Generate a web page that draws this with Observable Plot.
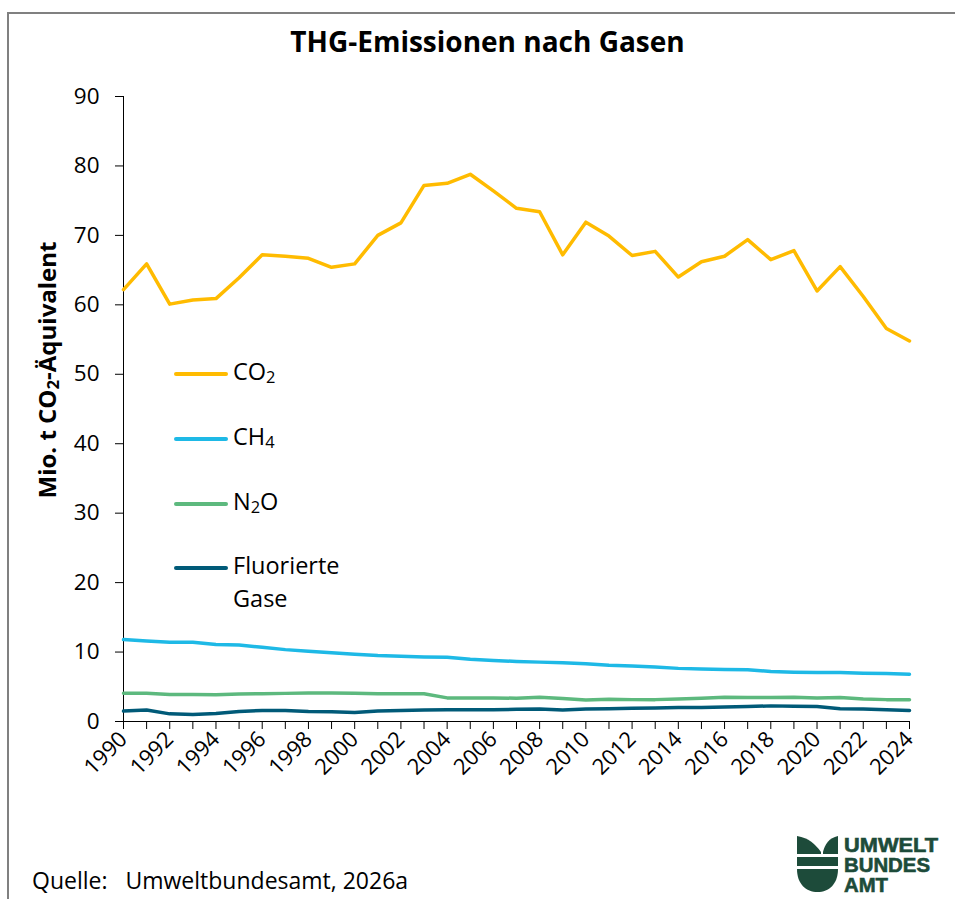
<!DOCTYPE html>
<html>
<head>
<meta charset="utf-8">
<script src="https://cdn.jsdelivr.net/npm/d3@7"></script>
<script src="https://cdn.jsdelivr.net/npm/@observablehq/plot@0.6"></script>
<style>
  html, body { margin: 0; padding: 0; background: #fff; }
  body { width: 955px; height: 899px; overflow: hidden; font-family: "Open Sans", "Noto Sans", sans-serif; color: #000; }
  #wrap { position: relative; width: 955px; height: 899px; }
  #frame { position: absolute; left: 7px; top: 12px; width: 960px; height: 900px; border-left: 2px solid #808080; border-top: 2px solid #808080; }
  #title { position: absolute; left: 0; width: 975px; top: 22px; text-align: center; font-weight: 700; font-size: 28px; }
  #chart { position: absolute; left: 0; top: 0; }
  #ylabel { position: absolute; left: 46px; top: 370px; transform: translate(-50%, -50%) rotate(-90deg); white-space: nowrap; font-weight: 700; font-size: 24px; }
  #legend { position: absolute; left: 174px; top: 0; font-size: 23.5px; }
  .item { position: absolute; left: 0; white-space: nowrap; display: flex; align-items: flex-start; }
  .sw { width: 54px; height: 4px; border-radius: 2px; margin-top: 14px; margin-right: 5px; }
  sub { font-size: 0.7em; vertical-align: -0.2em; line-height: 0; }
  #caption { position: absolute; left: 32px; top: 864px; font-size: 23px; white-space: nowrap; }
  #caption span { margin-right: 18px; }
  #logo { position: absolute; left: 795px; top: 832px; }
</style>
</head>
<body>
<div id="wrap">
  <div id="frame"></div>
  <div id="title">THG-Emissionen nach Gasen</div>
  <div id="chart"></div>
  <div id="ylabel">Mio. t CO<sub>2</sub>-Äquivalent</div>
  <div id="legend"></div>
  <div id="caption"><span>Quelle:</span>Umweltbundesamt, 2026a</div>
  <svg id="logo" width="150" height="64" viewBox="0 0 150 64">
    <g fill="#1d4b3a">
      <path d="M2,4 C14,6 20,12 26,20 L26,22 L2,22 Z"/>
      <path d="M28,22 L28,20 C30,12 34,6 43,4 L43,22 Z"/>
      <rect x="2" y="25" width="41" height="9"/>
      <path d="M2,37 L43,37 C43,52 34,60 22.5,60 C11,60 2,52 2,37 Z"/>
      <text x="49" y="20" font-family="'Liberation Sans Narrow','Liberation Sans',sans-serif" font-weight="700" font-size="20" textLength="94" lengthAdjust="spacingAndGlyphs" stroke="#1d4b3a" stroke-width="0.6">UMWELT</text>
      <text x="49" y="40" font-family="'Liberation Sans Narrow','Liberation Sans',sans-serif" font-weight="700" font-size="20" textLength="86" lengthAdjust="spacingAndGlyphs" stroke="#1d4b3a" stroke-width="0.6">BUNDES</text>
      <text x="49" y="60" font-family="'Liberation Sans Narrow','Liberation Sans',sans-serif" font-weight="700" font-size="20" textLength="44" lengthAdjust="spacingAndGlyphs" stroke="#1d4b3a" stroke-width="0.6">AMT</text>
    </g>
  </svg>
</div>
<script>
const years = d3.range(1990, 2025);
const gases = ["CO₂", "CH₄", "N₂O", "Fluorierte Gase"];
const colors = ["#FFBB00", "#1EB9E6", "#5DB97E", "#005A78"];
const co2 = [62.2, 65.9, 60.1, 60.7, 60.9, 63.9, 67.2, 67.0, 66.7, 65.4, 65.9, 70.0, 71.8, 77.2, 77.5, 78.8, 76.4, 73.9, 73.4, 67.2, 71.9, 69.9, 67.1, 67.7, 64.0, 66.2, 67.0, 69.4, 66.5, 67.8, 62.0, 65.5, 61.2, 56.6, 54.8];
const ch4 = [11.8, 11.6, 11.4, 11.4, 11.1, 11.0, 10.7, 10.35, 10.1, 9.9, 9.7, 9.5, 9.4, 9.3, 9.25, 8.95, 8.8, 8.65, 8.55, 8.45, 8.3, 8.1, 8.0, 7.85, 7.65, 7.55, 7.5, 7.45, 7.2, 7.1, 7.05, 7.05, 6.95, 6.9, 6.8];
const n2o = [4.06, 4.06, 3.9, 3.9, 3.85, 3.95, 4.0, 4.05, 4.1, 4.1, 4.06, 4.0, 4.0, 4.0, 3.4, 3.4, 3.4, 3.35, 3.5, 3.3, 3.1, 3.2, 3.15, 3.15, 3.25, 3.35, 3.5, 3.45, 3.45, 3.5, 3.4, 3.45, 3.25, 3.15, 3.15];
const fgas = [1.5, 1.65, 1.1, 1.0, 1.15, 1.45, 1.6, 1.6, 1.45, 1.4, 1.3, 1.5, 1.6, 1.65, 1.7, 1.7, 1.7, 1.75, 1.8, 1.65, 1.8, 1.85, 1.9, 1.95, 2.0, 2.0, 2.1, 2.15, 2.25, 2.2, 2.15, 1.85, 1.8, 1.7, 1.6];
const yTicks = [0, 10, 20, 30, 40, 50, 60, 70, 80, 90];
const legendHtml = ["CO<sub>2</sub>", "CH<sub>4</sub>", "N<sub>2</sub>O", "Fluorierte<br>Gase"];

const series = [co2, ch4, n2o, fgas];
const data = [];
series.forEach((vals, i) => vals.forEach((v, j) => data.push({year: years[j], value: v, gas: gases[i]})));

const chart = Plot.plot({
  width: 955,
  height: 820,
  marginTop: 96,
  marginBottom: 99,
  marginLeft: 123,
  marginRight: 46,
  style: {fontFamily: "'Open Sans', 'Noto Sans', sans-serif", fontSize: "22px", color: "#000", background: "transparent"},
  x: {domain: [1990, 2024]},
  y: {domain: [0, 90]},
  color: {domain: gases, range: colors},
  marks: [
    Plot.axisY({ticks: yTicks, tickSize: 8, tickPadding: 16, fontSize: 22.5, label: null, stroke: "#000"}),
    Plot.axisX({ticks: years, tickSize: 8, tickPadding: 6, tickRotate: -45, fontSize: 22, label: null,
      tickFormat: d => (d % 2 === 0 ? String(d) : ""), stroke: "#000"}),
    Plot.ruleX([1990], {stroke: "#000"}),
    Plot.ruleY([0], {stroke: "#000"}),
    Plot.line(data, {x: "year", y: "value", z: "gas", stroke: "gas", strokeWidth: 3.5, strokeLinejoin: "round", strokeLinecap: "round"})
  ]
});
document.getElementById("chart").appendChild(chart);

const legend = document.getElementById("legend");
const tops = [358, 423, 488, 552];
gases.forEach((g, i) => {
  const it = document.createElement("div");
  it.className = "item";
  it.style.top = tops[i] + "px";
  it.innerHTML = `<div class="sw" style="background:${colors[i]}"></div><div style="line-height:33px;margin-top:-3px">${legendHtml[i]}</div>`;
  legend.appendChild(it);
});
</script>
</body>
</html>
